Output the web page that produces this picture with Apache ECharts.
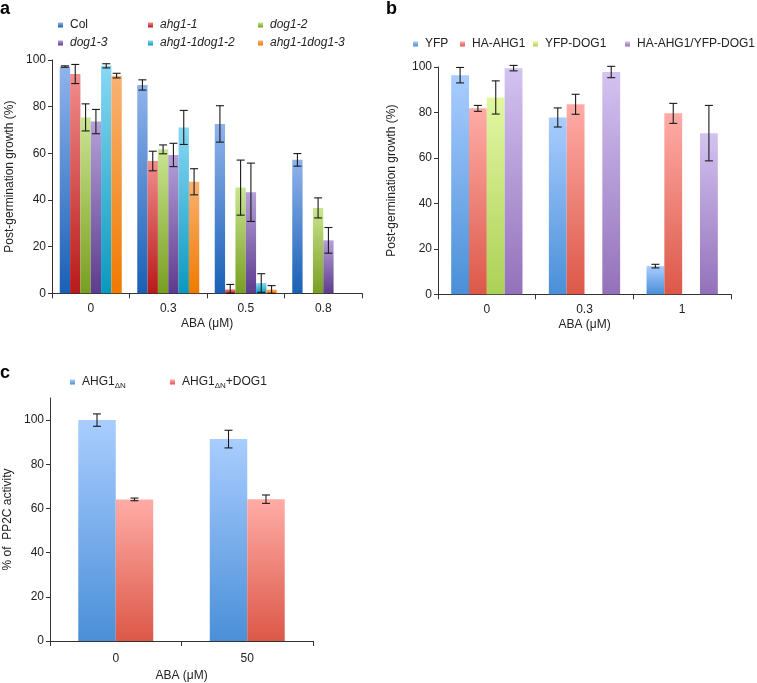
<!DOCTYPE html>
<html><head><meta charset="utf-8">
<script src="https://cdn.jsdelivr.net/npm/echarts@6/dist/echarts.min.js"></script>
<style>html,body{margin:0;padding:0;background:#fff}#c{width:757px;height:683px}</style>
</head><body><div id="c"></div>
<script>
// ---------- DATA ----------
const aCats = ['0', '0.3', '0.5', '0.8'];
const aCol = [97.2, 89.3, 72.6, 57.2];
const aColErr = [0.3, 2.2, 7.8, 2.7];
const aAhg11 = [94.0, 56.7, 1.7, null];
const aAhg11Err = [4.1, 4.2, 2.1, null];
const aDog12 = [75.4, 61.7, 45.3, 36.6];
const aDog12Err = [5.8, 1.9, 11.8, 4.3];
const aDog13 = [73.6, 59.3, 43.3, 22.7];
const aDog13Err = [5.2, 5.0, 12.5, 5.5];
const aAD2 = [97.5, 71.1, 4.4, null];
const aAD2Err = [0.9, 7.3, 4.0, null];
const aAD3 = [93.3, 47.8, 1.6, null];
const aAD3Err = [1.0, 5.6, 1.7, null];
const aNames = ['Col', 'ahg1-1', 'dog1-2', 'dog1-3', 'ahg1-1dog1-2', 'ahg1-1dog1-3'];

const bCats = ['0', '0.3', '1'];
const bYFP = [96.4, 77.8, 12.4];
const bYFPErr = [3.4, 4.2, 0.8];
const bHA = [81.8, 83.6, 79.6];
const bHAErr = [1.3, 4.4, 4.4];
const bYD = [86.6, null, null];
const bYDErr = [7.3, null, null];
const bHY = [99.5, 97.8, 70.9];
const bHYErr = [1.2, 2.5, 12.2];
const bNames = ['YFP', 'HA-AHG1', 'YFP-DOG1', 'HA-AHG1/YFP-DOG1'];

const cCats = ['0', '50'];
const cAHG = [100, 91.4];
const cAHGErr = [2.8, 4.0];
const cDOG = [64.1, 64.2];
const cDOGErr = [0.6, 1.9];
const cNames = ['AHG1ΔN', 'AHG1ΔN+DOG1'];

const yTicks = [0, 20, 40, 60, 80, 100];

// ---------- STYLE ----------
const FONT = 'Liberation Sans, Arial, Helvetica, sans-serif';
const AX = '#333';
function grad(top, bottom) {
  return new echarts.graphic.LinearGradient(0, 0, 0, 1, [{offset: 0, color: top}, {offset: 1, color: bottom}]);
}
const aColors = [
  ['#90b3ec', '#1960b5'], ['#f28c8c', '#b81a1a'], ['#cae591', '#789e20'],
  ['#b6a0d8', '#5d3b8e'], ['#88d8f3', '#0999be'], ['#f9b272', '#f07a00']
];
const bColors = [['#a9cdff', '#4a8fd8'], ['#ffaca6', '#dc5848'], ['#e2f7a2', '#acd156'], ['#d3c3f1', '#9371ba']];

const chart = echarts.init(document.getElementById('c'), null, {renderer: 'canvas'});

const series = [];
const legends = [];

function addBars(names, vals, errs, colors, gi, gap) {
  const n = names.length;
  names.forEach((nm, i) => {
    series.push({
      type: 'bar', name: nm, xAxisIndex: gi, yAxisIndex: gi,
      data: vals[i].map(v => v == null ? '-' : v),
      barGap: '0%', barCategoryGap: gap + '%',
      itemStyle: {color: grad(colors[i][0], colors[i][1])},
      emphasis: {disabled: true}, animation: false
    });
  });
  names.forEach((nm, i) => {
    const data = [];
    vals[i].forEach((v, k) => { if (v != null && errs[i][k] != null) data.push([k, v, errs[i][k]]); });
    series.push({
      type: 'custom', xAxisIndex: gi, yAxisIndex: gi, clip: false, silent: true, animation: false,
      data: data, encode: {x: 0, y: 1},
      z: 5,
      renderItem: function (params, api) {
        const cat = api.value(0), v = api.value(1), e = api.value(2);
        const band = api.size([1, 0])[0];
        const bw = band * (1 - gap / 100) / n;
        const c = api.coord([cat, v]);
        const x = c[0] + (i - (n - 1) / 2) * bw;
        const yt = api.coord([cat, v + e])[1];
        const yb = api.coord([cat, Math.max(0, v - e)])[1];
        const cap = 4;
        const st = {stroke: '#1a1a1a', lineWidth: 1.1};
        return {type: 'group', children: [
          {type: 'line', shape: {x1: x, y1: yt, x2: x, y2: yb}, style: st},
          {type: 'line', shape: {x1: x - cap, y1: yt, x2: x + cap, y2: yt}, style: st},
          {type: 'line', shape: {x1: x - cap, y1: yb, x2: x + cap, y2: yb}, style: st}
        ]};
      }
    });
  });
}

addBars(aNames, [aCol, aAhg11, aDog12, aDog13, aAD2, aAD3],
  [aColErr, aAhg11Err, aDog12Err, aDog13Err, aAD2Err, aAD3Err], aColors, 0, 20);
addBars(bNames, [bYFP, bHA, bYD, bHY], [bYFPErr, bHAErr, bYDErr, bHYErr], bColors, 1, 27);
addBars(cNames, [cAHG, cDOG], [cAHGErr, cDOGErr], [bColors[0], bColors[1]], 2, 43);

function legend(name, left, top, italic, rich) {
  const l = {
    data: [name], left: left, top: top, padding: 0, orient: 'horizontal',
    icon: 'rect', itemWidth: 5, itemHeight: 5, selectedMode: false,
    textStyle: {fontFamily: FONT, fontSize: 12, color: '#222', fontStyle: italic ? 'italic' : 'normal', padding: [0, 0, 0, 2]}
  };
  if (rich) {
    l.formatter = nm => nm.replace(/ΔN/, '{s|ΔN}');
    l.textStyle.rich = {s: {fontFamily: FONT, fontSize: 8, color: '#222', padding: [7, 0, 0, 0]}};
  }
  legends.push(l);
}
// panel a legend
legend('Col', 58, 19, false);
legend('ahg1-1', 148, 19, true);
legend('dog1-2', 258, 19, true);
legend('dog1-3', 58, 37, true);
legend('ahg1-1dog1-2', 148, 37, true);
legend('ahg1-1dog1-3', 258, 37, true);
// panel b legend
legend('YFP', 413, 38, false);
legend('HA-AHG1', 460, 38, false);
legend('YFP-DOG1', 533, 38, false);
legend('HA-AHG1/YFP-DOG1', 625, 38, false);
// panel c legend
legend('AHG1ΔN', 70, 376, false, true);
legend('AHG1ΔN+DOG1', 170, 376, false, true);

function xAx(cats, gi, nameGap, margin) {
  return {
    type: 'category', gridIndex: gi, data: cats,
    name: 'ABA (μM)', nameLocation: 'middle', nameGap: nameGap,
    nameTextStyle: {fontFamily: FONT, fontSize: 12, color: '#222'},
    axisLine: {lineStyle: {color: AX, width: 1}},
    axisTick: {show: true, length: 5, lineStyle: {color: AX}},
    axisLabel: {fontFamily: FONT, fontSize: 12, color: '#222', margin: margin},
    splitLine: {show: false}
  };
}
function yAx(gi, name, max, nameGap) {
  const o = {
    type: 'value', gridIndex: gi, min: 0, max: max, interval: 20,
    name: name, nameLocation: 'middle', nameGap: nameGap, nameRotate: 90,
    nameTextStyle: {fontFamily: FONT, fontSize: 12, color: '#222'},
    axisLine: {show: true, lineStyle: {color: AX, width: 1}},
    axisTick: {show: true, length: 4, lineStyle: {color: AX}},
    axisLabel: {fontFamily: FONT, fontSize: 12, color: '#222', margin: 6},
    splitLine: {show: false}
  };
  if (max !== 100) {
    o.axisTick.customValues = yTicks;
    o.axisLabel.customValues = yTicks;
  }
  return o;
}

chart.setOption({
  animation: false,
  textStyle: {fontFamily: FONT},
  title: [
    {text: 'a', left: 0, top: 0, padding: 0, textStyle: {fontFamily: FONT, fontSize: 18, fontWeight: 'bold', color: '#000'}},
    {text: 'b', left: 386, top: 0, padding: 0, textStyle: {fontFamily: FONT, fontSize: 18, fontWeight: 'bold', color: '#000'}},
    {text: 'c', left: 0, top: 364, padding: 0, textStyle: {fontFamily: FONT, fontSize: 18, fontWeight: 'bold', color: '#000'}}
  ],
  legend: legends,
  grid: [
    {left: 52, top: 60, width: 310, height: 233.3, containLabel: false, outerBoundsMode: 'none'},
    {left: 438, top: 67, width: 293, height: 227.3, containLabel: false, outerBoundsMode: 'none'},
    {left: 50, top: 398, width: 263, height: 243, containLabel: false, outerBoundsMode: 'none'}
  ],
  xAxis: [xAx(aCats, 0, 24, 9), xAx(bCats, 1, 24, 9), xAx(cCats, 2, 29, 12)],
  yAxis: [
    yAx(0, 'Post-germination growth (%)', 100, 36),
    yAx(1, 'Post-germination growth (%)', 100, 40),
    yAx(2, '% of  PP2C activity', 110, 36)
  ],
  series: series
});
</script></body></html>
